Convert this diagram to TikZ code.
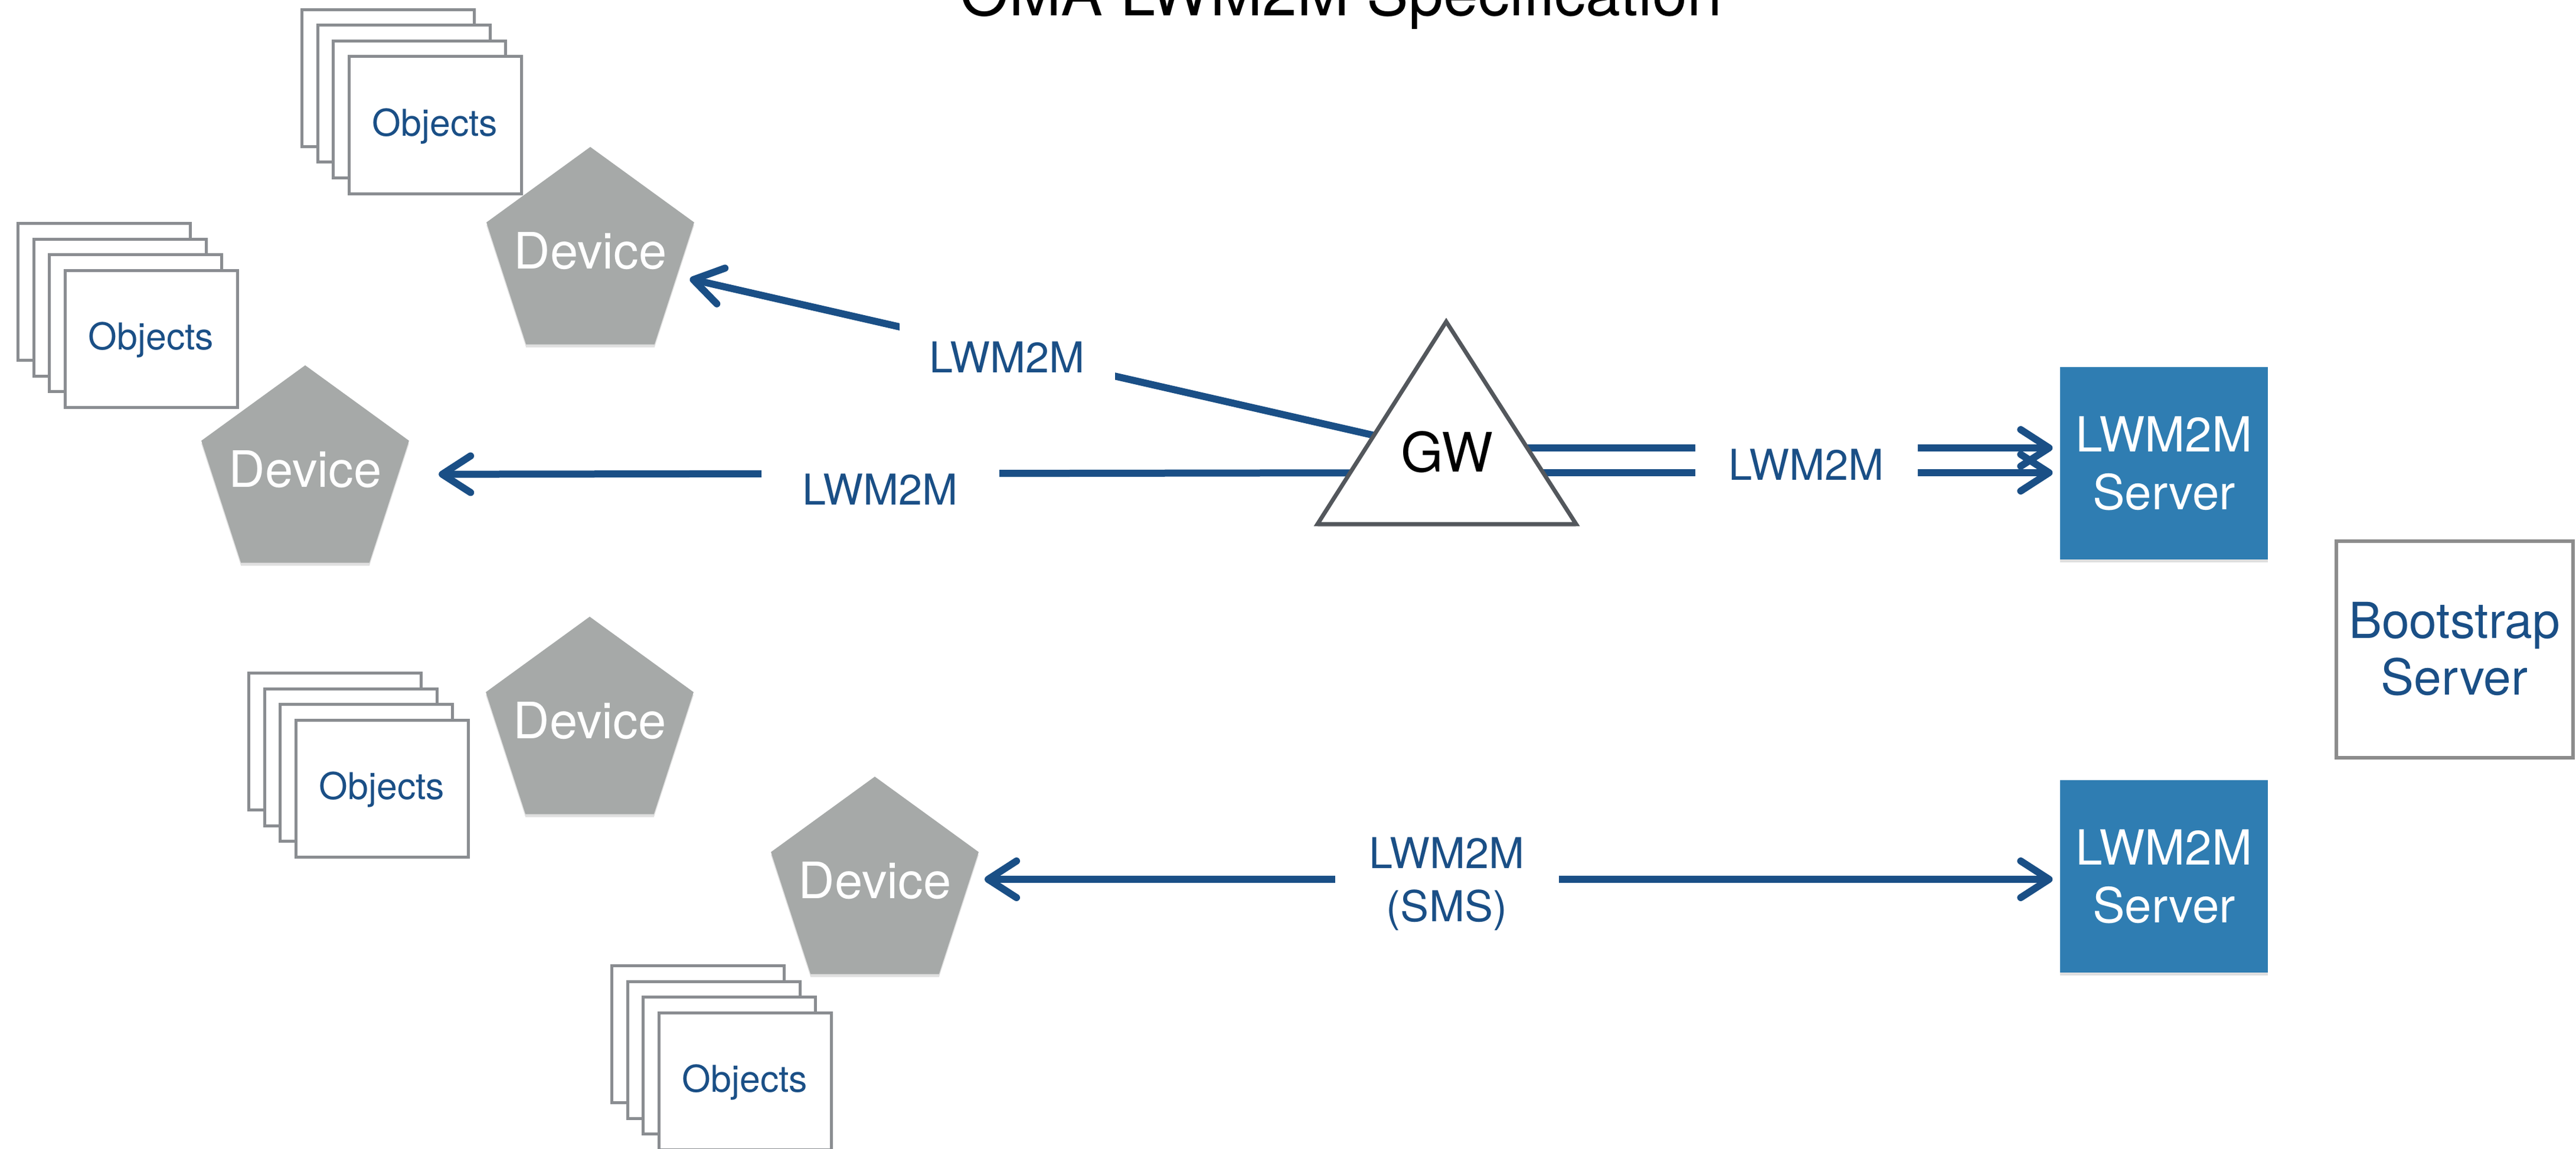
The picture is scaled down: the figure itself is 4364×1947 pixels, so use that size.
\documentclass[tikz,border=0pt]{standalone}
\usepackage{fontspec}
\setmainfont{TeX Gyre Heros}
\usetikzlibrary{arrows.meta,shapes.geometric,shadows}
\pgfdeclarelayer{bg}
\pgfsetlayers{bg,main}
\definecolor{lineblue}{HTML}{1A4F86}
\definecolor{srvblue}{HTML}{2F7DB2}
\definecolor{devgray}{HTML}{A6A9A8}
\definecolor{objgray}{HTML}{8A8D91}
\definecolor{gwgray}{HTML}{53575C}
\definecolor{bootgray}{HTML}{8C8C8C}
\tikzset{lwtip/.tip={Straight Barb[length=4.8mm,width=6.2mm,round]}}
\begin{document}
\begin{tikzpicture}[x=0.1mm,y=-0.1mm,
  device/.style={regular polygon, regular polygon sides=5, minimum size=37mm, inner sep=0pt,
    fill=devgray, drop shadow={opacity=0.25, shadow xshift=0mm, shadow yshift=-0.5mm},
    label={[devtext]center:#1}},
  devtext/.style={text=white, inner sep=0pt, font=\fontsize{24.2}{29}\selectfont, text depth=2mm},
  objbox/.style={rectangle, draw=objgray, line width=0.5mm, fill=white, minimum width=29.2mm,
    minimum height=23.2mm, inner sep=0pt, outer sep=0pt, text=lineblue, text depth=1mm,
    font=\fontsize{17.8}{21}\selectfont},
  objback/.style={draw=objgray, line width=0.5mm, fill=white},
  server/.style={rectangle, fill=srvblue, text=white, minimum width=35.2mm, minimum height=32.6mm,
    align=center, inner sep=0pt, font=\fontsize{23.3}{27.9}\selectfont,
    drop shadow={opacity=0.25, shadow xshift=0mm, shadow yshift=-0.5mm}},
  boot/.style={rectangle, draw=bootgray, line width=0.6mm, fill=white, text=lineblue,
    minimum width=40.1mm, minimum height=36.7mm, align=center, inner sep=0pt,
    font=\fontsize{23.9}{27.3}\selectfont},
  lbl/.style={fill=white, text=lineblue, inner sep=0pt, align=center, font=\fontsize{20.5}{25.6}\selectfont},
  conn/.style={draw=lineblue, line width=1.2mm},
  gwtri/.style={draw=gwgray, line width=0.7mm, fill=white, line join=miter,
    drop shadow={opacity=0.25, shadow xshift=0mm, shadow yshift=-0.5mm}}]
\useasboundingbox (0,0) rectangle (4364,1947);
\clip (0,0) rectangle (4364,1947);

% title (cut by the top edge, as in the reference)
\node[anchor=base, inner sep=0pt, font=\fontsize{30.2}{36}\selectfont] (title) at (2272,27) {OMA LWM2M Specification};

% object stacks (front sheets)
\node[objbox] (o1) at (737,212) {Objects};
\node[objbox] (o2) at (256,574) {Objects};
\node[objbox] (o3) at (647,1336) {Objects};
\node[objbox] (o4) at (1262,1832) {Objects};

% devices
\node[device=Device] (dev1) at (1000,434) {};
\node[device=Device] (dev2) at (517,804) {};
\node[device=Device] (dev3) at (999,1230) {};
\node[device=Device] (dev4) at (1482,1501) {};

% gateway
\draw[gwtri] (2450,545) -- (2670,888) -- (2232,888) -- cycle;
\node[inner sep=0pt, font=\fontsize{26.2}{31}\selectfont] (gw) at (2451,766) {GW};
\coordinate (gwhi) at (2451,759);
\coordinate (gwlo) at (2451,801);

% servers
\node[server] (srv1) at (3666,785) {LWM2M\\Server};
\node[server] (srv2) at (3666,1485) {LWM2M\\Server};
\node[boot] (boot) at (4158,1100) {Bootstrap\\Server};
\coordinate (smsline) at (2450,1490);

% back sheets of the object stacks
\begin{pgfonlayer}{bg}
\foreach \o in {o1,o2,o3,o4}{
  \foreach \k in {3,2,1}{
    \draw[objback] ([shift={(-26.5*\k,-26.5*\k)}]\o.north west) rectangle ([shift={(-26.5*\k,-26.5*\k)}]\o.south east);
  }
}
% connectors
\draw[conn, -lwtip, shorten >=2.2mm] (gw.center) -- (dev1);
\draw[conn, -lwtip, shorten >=6.8mm] (gwlo) -- (dev2);
\draw[conn, -lwtip, shorten >=1.2mm] (gwhi) -- (srv1.west |- gwhi);
\draw[conn, -lwtip, shorten >=1.2mm] (gwlo) -- (srv1.west |- gwlo);
\draw[conn, lwtip-lwtip, shorten <=18.6mm, shorten >=1.2mm] (dev4.center |- smsline) -- (srv2.west |- smsline);
\end{pgfonlayer}

% labels that break the connectors
\node[lbl, minimum width=36.5mm, minimum height=12mm] (l1) at (1706,605) {LWM2M};
\node[lbl, minimum width=40.3mm, minimum height=9mm] (l2) at (1491,829) {LWM2M};
\node[lbl, minimum width=37.7mm, minimum height=9mm] (l3) at (3060,787) {LWM2M};
\node[lbl, minimum width=37.9mm, minimum height=20mm] (l4) at (2451,1498) {LWM2M\\(SMS)};
\end{tikzpicture}
\end{document}
